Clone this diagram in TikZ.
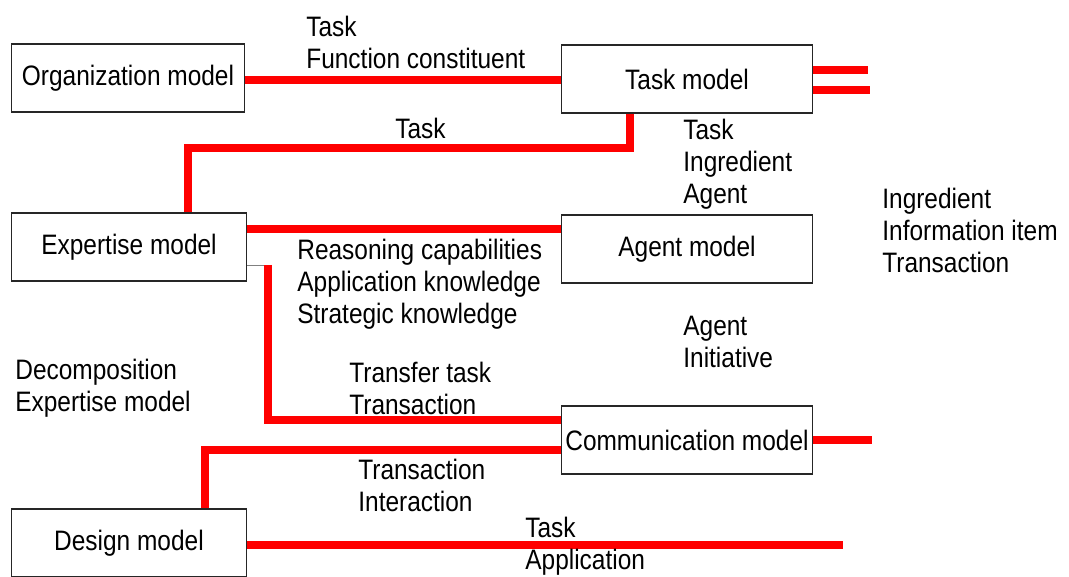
\documentclass[tikz,border=0pt]{standalone}
\usepackage{fontspec}
\setmainfont{Liberation Sans}[FakeStretch=0.87]

\begin{document}
\begin{tikzpicture}[x=0.02cm,y=-0.02cm,
    model/.style={draw=black!85,line width=1pt,fill=white,minimum height=1.36cm,
      inner sep=0pt,font=\fontsize{16}{18}\selectfont},
    link/.style={red,line width=4pt},
    lab/.style={anchor=west,align=left,inner sep=0pt,font=\fontsize{16}{18.2}\selectfont}]
    \useasboundingbox (0,0) rectangle (1069,577);

    % Los modelos.
    \node[model,minimum width=4.66cm] (org) at (128,78) {Organization model};
    \node[model,minimum width=5.02cm] (task) at (687,79) {Task model};
    \node[model,minimum width=4.7cm] (expert) at (129,247) {Expertise model};
    \node[model,minimum width=5.02cm] (agent) at (687,249) {Agent model};
    \node[model,minimum width=5.02cm] (comm) at (687,440) {Communication model};
    \node[model,minimum width=4.7cm] (design) at (129,543) {Design model};

    % Extremos libres.
    \coordinate (taskA) at (868,70);
    \coordinate (taskB) at (870,90);
    \coordinate (commA) at (872,440);
    \coordinate (designA) at (843,545);
    \coordinate (bend) at (268,265);

    % Conexiones.
    \draw[link] (org.east |- 0,80) -- (task.west |- 0,80);
    \draw[link] (task.south -| 630,0) |- (188,148) -- (expert.north -| 188,0);
    \draw[link] (expert.east |- 0,229) -- (agent.west |- 0,229);
    \draw[gray,thin] (expert.east |- bend) -- (bend);
    \draw[link] (bend) |- (comm.west |- 0,420);
    \draw[link] (comm.west |- 0,450) -| (design.north -| 205,0);
    \draw[link] (design.east |- designA) -- (designA);
    \draw[link] (task.east |- taskA) -- (taskA);
    \draw[link] (task.east |- taskB) -- (taskB);
    \draw[link] (comm.east |- commA) -- (commA);

    % Etiquetas.
    \node[lab] (l1) at (306,42) {Task\\Function constituent};
    \node[lab] (l2) at (395,128) {Task};
    \node[lab] (l3) at (297,284) {Reasoning capabilities\\Application knowledge\\Strategic knowledge};
    \node[lab] (l4) at (683,164) {Task\\Ingredient\\Agent};
    \node[lab] (l5) at (882,230) {Ingredient\\Information item\\Transaction};
    \node[lab] (l6) at (683,342) {Agent\\Initiative};
    \node[lab] (l7) at (15,388) {Decomposition\\Expertise model};
    \node[lab] (l8) at (349,388) {Transfer task\\Transaction};
    \node[lab] (l9) at (358,485) {Transaction\\Interaction};
    \node[lab] (l10) at (525,546) {Task\\Application};
\end{tikzpicture}
\end{document}
